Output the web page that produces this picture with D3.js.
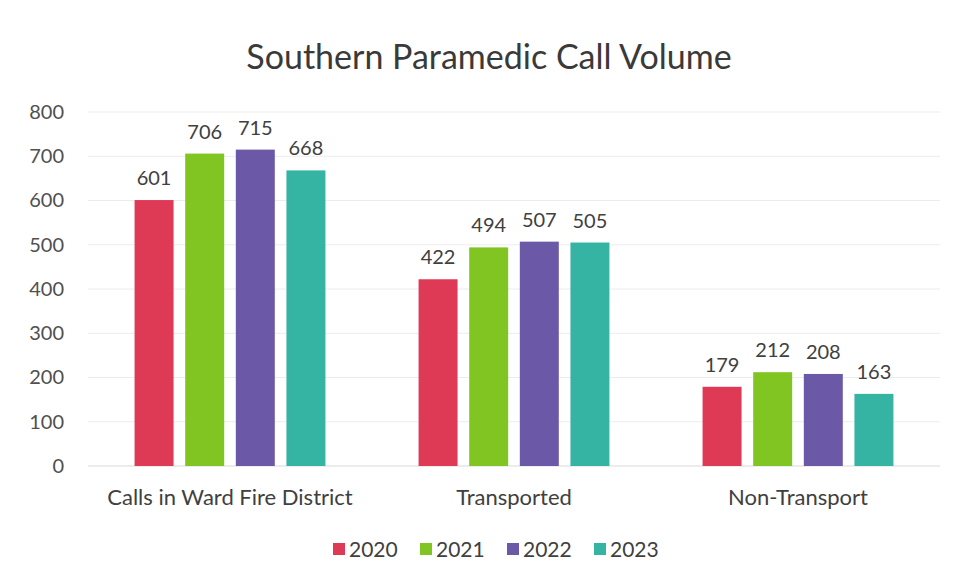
<!DOCTYPE html>
<html><head><meta charset="utf-8">
<script src="https://cdn.jsdelivr.net/npm/d3@7"></script>
<style>body{margin:0;background:#fff;}svg{display:block;font-family:Lato,"Open Sans",sans-serif;}</style>
</head><body><svg id="c" width="955" height="583"></svg>
<script>
const categories = ["Calls in Ward Fire District", "Transported", "Non-Transport"];
const years = ["2020", "2021", "2022", "2023"];
const values2020 = [601, 422, 179];
const values2021 = [706, 494, 212];
const values2022 = [715, 507, 208];
const values2023 = [668, 505, 163];
const yTicks = [0, 100, 200, 300, 400, 500, 600, 700, 800];
const colors = ["#de3a55", "#80c521", "#6b59a8", "#35b3a3"];

const series = [values2020, values2021, values2022, values2023];
const svg = d3.select("#c");
const plotLeft = 88, plotRight = 940, plotTop = 112, plotBottom = 466;

const x0 = d3.scaleBand().domain(categories).range([plotLeft, plotRight]).paddingInner(0).paddingOuter(0);
const x1 = d3.scaleBand().domain(years).range([0, x0.bandwidth()]).paddingInner(0.23).paddingOuter(0.92);
const y = d3.scaleLinear().domain([0, 800]).range([plotBottom, plotTop]);

svg.append("text").attr("x", 489).attr("y", 69).attr("text-anchor", "middle")
  .attr("font-size", 34).attr("fill", "#3a3a3a").text("Southern Paramedic Call Volume");

// grid
svg.append("g").selectAll("line").data(yTicks).join("line")
  .attr("x1", plotLeft).attr("x2", plotRight).attr("y1", d => y(d)).attr("y2", d => y(d))
  .attr("stroke", d => d === 0 ? "#d9d9d9" : "#ececec").attr("stroke-width", 1);

// y axis
const ya = svg.append("g").attr("transform", `translate(${plotLeft},0)`)
  .call(d3.axisLeft(y).tickValues(yTicks).tickSize(0).tickPadding(24));
ya.select(".domain").remove();
ya.selectAll("text").attr("font-size", 20).attr("fill", "#505050").attr("font-family", "Lato, 'Open Sans', sans-serif");

// x axis
const xa = svg.append("g").attr("transform", `translate(0,${plotBottom})`)
  .call(d3.axisBottom(x0).tickSize(0).tickPadding(23));
xa.select(".domain").remove();
xa.selectAll("text").attr("font-size", 22).attr("fill", "#404040").attr("font-family", "Lato, 'Open Sans', sans-serif");

// bars
const rows = [];
categories.forEach((c, i) => years.forEach((yr, j) => rows.push({c, yr, v: series[j][i], j})));
const g = svg.append("g");
g.selectAll("rect").data(rows).join("rect")
  .attr("x", d => x0(d.c) + x1(d.yr)).attr("width", x1.bandwidth())
  .attr("y", d => y(d.v)).attr("height", d => y(0) - y(d.v))
  .attr("fill", d => colors[d.j]);
g.selectAll("text").data(rows).join("text")
  .attr("x", d => x0(d.c) + x1(d.yr) + x1.bandwidth() / 2)
  .attr("y", d => y(d.v) - 15).attr("text-anchor", "middle")
  .attr("font-size", 20).attr("fill", "#404040").text(d => d.v);

// legend
const lg = svg.append("g");
const lx = [333, 420, 507, 594];
years.forEach((yr, j) => {
  lg.append("rect").attr("x", lx[j]).attr("y", 543).attr("width", 12).attr("height", 12).attr("fill", colors[j]);
  lg.append("text").attr("x", lx[j] + 16).attr("y", 557).attr("font-size", 21).attr("fill", "#404040").text(yr);
});
</script></body></html>
